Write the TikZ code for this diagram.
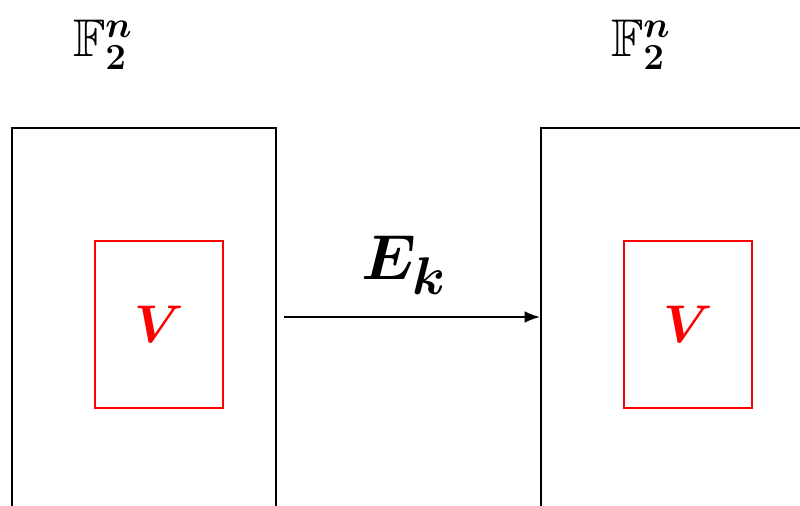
\documentclass[tikz,border=0pt]{standalone}
\usepackage{amsmath,amssymb,bm}
\usepackage{xcolor}
\usetikzlibrary{arrows.meta,positioning,calc}

\begin{document}
\begin{tikzpicture}[x=0.01375cm,y=-0.01375cm,
 sp/.style={draw,thick,minimum width=264*0.01375cm,minimum height=500*0.01375cm,inner sep=0pt},
 sub/.style={draw=red,thick,minimum width=128*0.01375cm,minimum height=167*0.01375cm,inner sep=0pt,text=red,font=\huge},
 a/.style={-{Latex[length=6pt,width=4.6pt]},thick},
 lab/.style={font=\huge}
]
\useasboundingbox (0,0) rectangle (800,505);
\clip (0,0) rectangle (800,505);
\node[sp] (L) at (144,378) {};
\node[sp] (R) at (673,378) {};
\node[sub] (VL) at (159,324.5) {$\bm{V}$};
\node[sub] (VR) at (688,324.5) {$\bm{V}$};
\node[lab] (FL) at (103,45) {$\mathbb{F}_{\bm{2}}^{\bm{n}}$};
\node[lab] (FR) at (641,45) {$\mathbb{F}_{\bm{2}}^{\bm{n}}$};
\coordinate (s) at (284,317);
\draw[a] (s) -- (s -| R.west) node[midway,above=5pt,xshift=-3pt,font=\Huge] (E) {$\bm{E_k}$};
\end{tikzpicture}
\end{document}
